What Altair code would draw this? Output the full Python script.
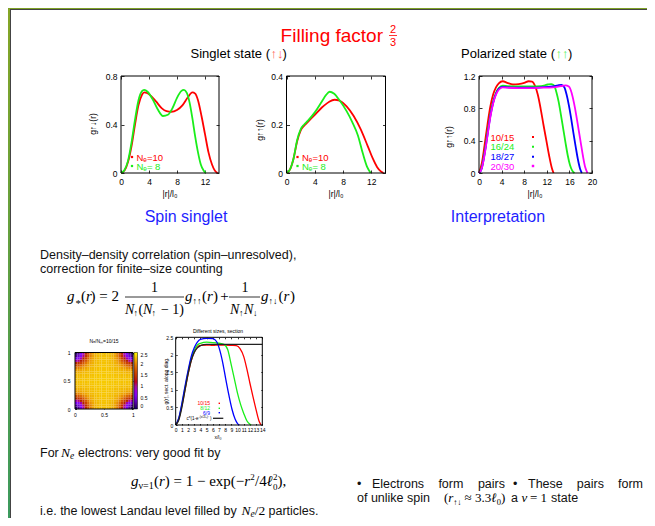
import altair as alt
import pandas as pd

SANS = "Liberation Sans"
SERIF = "Liberation Serif"
W, H = 639, 510
OFF = 8  # page margin

# ---------------- data ----------------
# Singlet state, g_{up,down}(r)
sd10_r = [0, 0.5, 1, 1.5, 2, 2.5, 3, 3.3, 3.7, 4.2, 5, 5.8, 6.5, 7.2, 8, 8.8, 9.5, 10.2, 10.6, 11, 11.5, 12, 12.5, 13, 13.4, 13.8]
sd10_g = [0, 0.02, 0.09, 0.22, 0.40, 0.56, 0.645, 0.665, 0.66, 0.64, 0.59, 0.535, 0.51, 0.505, 0.52, 0.56, 0.62, 0.665, 0.655, 0.6, 0.47, 0.32, 0.17, 0.07, 0.02, 0]
sd8_r = [0, 0.5, 1, 1.5, 2, 2.5, 3, 3.3, 3.8, 4.5, 5.2, 6, 6.7, 7.4, 8, 8.6, 9, 9.4, 9.8, 10.2, 10.6, 11, 11.4, 11.8, 12.1]
sd8_g = [0, 0.025, 0.1, 0.25, 0.44, 0.6, 0.675, 0.685, 0.67, 0.61, 0.53, 0.47, 0.48, 0.54, 0.62, 0.675, 0.685, 0.66, 0.58, 0.45, 0.3, 0.17, 0.07, 0.02, 0]
# Singlet state, g_{up,up}(r)
su10_r = [0, 0.5, 1, 1.5, 2, 2.5, 3, 4, 5, 6, 6.8, 7.5, 8.5, 9.5, 10.5, 11.5, 12.2, 12.8, 13.3, 13.7]
su10_g = [0, 0.015, 0.06, 0.13, 0.175, 0.195, 0.21, 0.24, 0.27, 0.293, 0.302, 0.298, 0.275, 0.235, 0.18, 0.11, 0.06, 0.025, 0.008, 0]
su8_r = [0, 0.5, 1, 1.5, 2, 2.5, 3, 4, 5, 5.6, 6.1, 6.7, 7.5, 8.5, 9.3, 10.1, 10.8, 11.4, 11.9]
su8_g = [0, 0.015, 0.06, 0.135, 0.18, 0.2, 0.215, 0.25, 0.295, 0.322, 0.335, 0.328, 0.3, 0.255, 0.21, 0.155, 0.08, 0.025, 0]
# Polarized state
p15_r = [0, 0.5, 1, 1.5, 2, 2.5, 3, 3.5, 4.2, 5, 6, 7, 8, 8.8, 9.4, 9.9, 10.4, 10.9, 11.4, 11.9, 12.4, 12.9, 13.2]
p15_g = [0, 0.12, 0.35, 0.6, 0.82, 0.97, 1.06, 1.11, 1.135, 1.115, 1.095, 1.1, 1.115, 1.135, 1.13, 1.08, 0.97, 0.8, 0.6, 0.41, 0.22, 0.06, 0]
p24_r = [0, 0.5, 1, 1.5, 2, 2.5, 3, 3.5, 4.2, 5, 7, 9, 11, 12.2, 12.8, 13.3, 13.7, 14.1, 14.5, 14.9, 15.3, 15.7, 16.1, 16.5, 16.9]
p24_g = [0, 0.07, 0.26, 0.5, 0.72, 0.88, 0.99, 1.05, 1.08, 1.075, 1.07, 1.07, 1.075, 1.095, 1.1, 1.08, 1.0, 0.88, 0.72, 0.55, 0.38, 0.22, 0.1, 0.03, 0]
p27_r = [0, 0.5, 1, 1.5, 2, 2.5, 3, 3.5, 4.2, 5, 7, 9, 11, 13, 14, 14.6, 15.1, 15.5, 15.9, 16.3, 16.7, 17.1, 17.5, 17.9, 18.2]
p27_g = [0, 0.06, 0.24, 0.47, 0.7, 0.87, 0.98, 1.04, 1.065, 1.06, 1.055, 1.055, 1.06, 1.07, 1.085, 1.09, 1.06, 0.97, 0.84, 0.68, 0.5, 0.33, 0.17, 0.05, 0]
p30_r = [0, 0.5, 1, 1.5, 2, 2.5, 3, 3.5, 4.2, 5, 7, 9, 11, 13, 14.5, 15.3, 15.9, 16.4, 16.8, 17.2, 17.6, 18, 18.4, 18.8, 19.2]
p30_g = [0, 0.06, 0.23, 0.46, 0.69, 0.86, 0.97, 1.03, 1.06, 1.055, 1.05, 1.05, 1.055, 1.06, 1.075, 1.085, 1.07, 0.99, 0.87, 0.72, 0.55, 0.38, 0.21, 0.07, 0]
# Section along diagonal, different sizes
s15_r = [0, 0.5, 1, 1.5, 2, 2.5, 3, 3.5, 4, 5, 6, 7, 8, 9, 9.8, 10.4, 11, 11.5, 12, 12.5, 13, 13.5, 13.8]
s15_g = [0, 0.17, 0.55, 1.0, 1.45, 1.83, 2.08, 2.22, 2.27, 2.28, 2.27, 2.28, 2.28, 2.27, 2.26, 2.18, 1.95, 1.6, 1.19, 0.8, 0.43, 0.1, 0]
s12_r = [0, 0.5, 1, 1.5, 2, 2.5, 3, 3.5, 4, 5, 6, 7, 7.8, 8.4, 9, 9.5, 10, 10.5, 11, 11.5, 12, 12.2]
s12_g = [0, 0.18, 0.58, 1.05, 1.5, 1.88, 2.13, 2.28, 2.33, 2.36, 2.35, 2.33, 2.3, 2.15, 1.7, 1.3, 0.9, 0.58, 0.33, 0.12, 0.02, 0]
s9_r = [0, 0.5, 1, 1.5, 2, 2.5, 3, 3.5, 4, 5, 6, 6.6, 7.1, 7.6, 8.1, 8.6, 9.1, 9.6, 10, 10.3]
s9_g = [0, 0.2, 0.62, 1.1, 1.55, 1.95, 2.2, 2.36, 2.44, 2.47, 2.46, 2.38, 2.15, 1.78, 1.3, 0.85, 0.45, 0.17, 0.04, 0]
fit_r = [0, 0.5, 1, 1.5, 2, 2.5, 3, 3.5, 4, 4.5, 5, 6, 8, 10, 12, 14]
fit_g = [0, 0.14, 0.5, 0.99, 1.45, 1.83, 2.07, 2.2, 2.26, 2.29, 2.3, 2.3, 2.3, 2.3, 2.3, 2.3]
# Heatmap N_e/N_m = 10/15 : one quadrant (rows/cols counted from a corner)
hm_quad = [
    [0.09, 0.26, 0.55, 0.93, 1.34, 1.69, 1.96, 2.13, 2.20, 2.25, 2.26, 2.27],
    [0.26, 0.42, 0.70, 1.04, 1.43, 1.75, 1.99, 2.14, 2.21, 2.25, 2.26, 2.27],
    [0.55, 0.70, 0.93, 1.25, 1.57, 1.86, 2.05, 2.16, 2.22, 2.25, 2.27, 2.28],
    [0.93, 1.04, 1.25, 1.50, 1.75, 1.96, 2.12, 2.19, 2.23, 2.26, 2.27, 2.28],
    [1.34, 1.43, 1.57, 1.75, 1.93, 2.07, 2.15, 2.21, 2.25, 2.26, 2.27, 2.28],
    [1.69, 1.75, 1.86, 1.96, 2.07, 2.15, 2.20, 2.23, 2.26, 2.27, 2.28, 2.29],
    [1.96, 1.99, 2.05, 2.12, 2.15, 2.20, 2.23, 2.25, 2.26, 2.27, 2.28, 2.29],
    [2.13, 2.14, 2.16, 2.19, 2.21, 2.23, 2.25, 2.26, 2.27, 2.28, 2.29, 2.29],
    [2.20, 2.21, 2.22, 2.23, 2.25, 2.26, 2.26, 2.27, 2.28, 2.29, 2.29, 2.30],
    [2.25, 2.25, 2.25, 2.26, 2.26, 2.27, 2.27, 2.28, 2.29, 2.29, 2.30, 2.30],
    [2.26, 2.26, 2.27, 2.27, 2.27, 2.28, 2.28, 2.29, 2.29, 2.30, 2.30, 2.31],
    [2.27, 2.27, 2.28, 2.28, 2.28, 2.29, 2.29, 2.29, 2.30, 2.30, 2.31, 2.31],
]
# tick values
t_x14 = [0, 4, 8, 12]
t_y08 = [0, 0.4, 0.8]
t_y04 = [0, 0.2, 0.4]
t_x20 = [0, 4, 8, 12, 16, 20]
t_y12 = [0, 0.4, 0.8, 1.2]
t_sx = list(range(0, 15))
t_sy = [0, 0.5, 1, 1.5, 2, 2.5]
t_h = [0, 0.5, 1]
cb_stops = [0, 0.25, 0.5, 0.75, 1.0, 1.25, 1.5, 1.75, 2.0, 2.25, 2.5]
cb_colors = ["#000000", "#510096", "#7202f2", "#8c07f2", "#a11096", "#b42000",
             "#c53700", "#d55700", "#e48300", "#f2ba00", "#ffff00"]

RED, GREEN, BLUE, MAG = "#ff0000", "#1aee1a", "#0000ff", "#ff00ff"


def long(series):
    rows = []
    for name, (rs, gs) in series.items():
        for r, g in zip(rs, gs):
            rows.append({"s": name, "r": r, "g": g})
    return pd.DataFrame(rows)


def ax(orient, offset, values, labels=True, ticks=False, size=8.5, pad=3, tick=3):
    return alt.Axis(orient=orient, offset=offset, values=values, labels=labels, ticks=ticks,
                    tickSize=tick, tickColor="black", tickWidth=0.8, domain=False, grid=False,
                    title=None, labelFont=SANS, labelFontSize=size, labelColor="black",
                    labelPadding=pad, labelFlush=False, labelOverlap=False,
                    labelExpr="toString(datum.value)")


def frame_layers(xs, ys, xdom, ydom, x0, x1, yb, yt, xt, yt_vals, tick, bw):
    box = pd.DataFrame({"a": [xdom[0]], "b": [xdom[1]], "c": [ydom[0]], "d": [ydom[1]]})
    b1 = alt.Chart(box).mark_rect(fillOpacity=0, stroke="black", strokeWidth=bw).encode(
        x=alt.X("a:Q", scale=xs, axis=ax("top", -yb, xt, labels=False, ticks=True, tick=tick)),
        x2=alt.X2("b"),
        y=alt.Y("c:Q", scale=ys, axis=ax("right", x0 - W, yt_vals, labels=False, ticks=True, tick=tick)),
        y2=alt.Y2("d"))
    b2 = alt.Chart(box).mark_rect(opacity=0).encode(
        x=alt.X("a:Q", scale=xs, axis=ax("bottom", yt - H, xt, labels=False, ticks=True, tick=tick)),
        x2=alt.X2("b"),
        y=alt.Y("c:Q", scale=ys, axis=ax("left", -x1, yt_vals, labels=False, ticks=True, tick=tick)),
        y2=alt.Y2("d"))
    return [b1, b2]


def panel(df, xdom, ydom, px, py, xt, yt_vals, cdom, crng, lw=1.8, fs=8.5, tick=3, bw=1, xpad=4, ypad=4):
    x0, x1 = px[0] - OFF, px[1] - OFF
    yb, yt = py[0] - OFF, py[1] - OFF
    xs = alt.Scale(domain=xdom, range=[x0, x1], nice=False, zero=False)
    ys = alt.Scale(domain=ydom, range=[yb, yt], nice=False, zero=False)
    data = alt.Chart(df).mark_line(strokeWidth=lw, interpolate="monotone").encode(
        x=alt.X("r:Q", scale=xs, axis=ax("bottom", yb - H, xt, size=fs, pad=xpad)),
        y=alt.Y("g:Q", scale=ys, axis=ax("left", -x0, yt_vals, size=fs, pad=ypad)),
        color=alt.Color("s:N", scale=alt.Scale(domain=cdom, range=crng), legend=None),
    )
    return [data] + frame_layers(xs, ys, xdom, ydom, x0, x1, yb, yt, xt, yt_vals, tick, bw)


def T(s, x, y, size=12.5, color="black", align="left", font=SANS, style="normal",
      angle=0, baseline="alphabetic"):
    return alt.Chart(pd.DataFrame({"t": [s]})).mark_text(
        align=align, baseline=baseline, fontSize=size, color=color, font=font,
        fontStyle=style, angle=angle).encode(text="t:N", x=alt.value(x - OFF), y=alt.value(y - OFF))


def DOT(x, y, color, size=5):
    return alt.Chart(pd.DataFrame({"k": [0]})).mark_square(size=size, color=color, opacity=1).encode(
        x=alt.value(x - OFF), y=alt.value(y - OFF))


def RULE(x1, x2, y, color="black", w=0.8):
    return alt.Chart(pd.DataFrame({"k": [0]})).mark_rule(color=color, strokeWidth=w).encode(
        x=alt.value(x1 - OFF), x2=alt.value(x2 - OFF), y=alt.value(y - OFF))


def VRULE(x, y1, y2, color="black", w=0.8):
    return alt.Chart(pd.DataFrame({"k": [0]})).mark_rule(color=color, strokeWidth=w).encode(
        x=alt.value(x - OFF), y=alt.value(y1 - OFF), y2=alt.value(y2 - OFF))


layers = []

# ---------------- slide frame ----------------
one = pd.DataFrame({"k": [0]})
layers.append(alt.Chart(one).mark_rect(fill=alt.Gradient(
    gradient="linear", x1=0, x2=0, y1=0, y2=1,
    stops=[alt.GradientStop(color="#86a626", offset=0), alt.GradientStop(color="#3c9a5e", offset=1)])).encode(
    x=alt.value(0), x2=alt.value(2), y=alt.value(0), y2=alt.value(H)))
layers.append(alt.Chart(one).mark_rect(fill="#7ea126").encode(
    x=alt.value(0), x2=alt.value(W), y=alt.value(0), y2=alt.value(1)))
layers.append(VRULE(10.5, 9.5, 526, color="#444444", w=1))
layers.append(RULE(10, 655, 9.5, color="#444444", w=1))

# ---------------- title ----------------
layers += [
    T("Filling factor", 383, 42, 19, RED, "right"),
    T("2", 393, 33, 11, RED, "center"),
    RULE(389, 397, 35.5, RED, 0.8),
    T("3", 393, 45.5, 11, RED, "center"),
    T("Singlet state (", 270, 58, 13, "black", "right"),
    T("↑↓", 270.5, 58, 13, "#ff5c5c"),
    T(")", 282.5, 58, 13),
    T("Polarized state (", 555, 58, 13, "black", "right"),
    T("↑↑", 555.5, 58, 13, "#5cf05c"),
    T(")", 568, 58, 13),
]

# ---------------- top plots ----------------
layers += panel(long({"10": (sd10_r, sd10_g), "8": (sd8_r, sd8_g)}),
                [0, 14], [0, 0.8], [121, 219], [173, 76], t_x14, t_y08,
                ["10", "8"], [RED, GREEN])
layers += panel(long({"10": (su10_r, su10_g), "8": (su8_r, su8_g)}),
                [0, 14], [0, 0.4], [286.5, 385.5], [173, 76], t_x14, t_y04,
                ["10", "8"], [RED, GREEN])
layers += panel(long({"10/15": (p15_r, p15_g), "16/24": (p24_r, p24_g),
                      "18/27": (p27_r, p27_g), "20/30": (p30_r, p30_g)}),
                [0, 20], [0, 1.2], [479, 592], [173, 76], t_x20, t_y12,
                ["10/15", "16/24", "18/27", "20/30"], [RED, GREEN, BLUE, MAG])

# axis titles of top plots
layers += [
    T("g↑↓(r)", 93, 124, 8.5, angle=270, align="center", baseline="middle"),
    T("g↑↑(r)", 260, 130, 8.5, angle=270, align="center", baseline="middle"),
    T("g↑↑(r)", 449, 137, 8.5, angle=270, align="center", baseline="middle"),
    T("|r|/l₀", 170, 197, 8.5, align="center"),
    T("|r|/l₀", 336, 197, 8.5, align="center"),
    T("|r|/l₀", 535, 197, 8.5, align="center"),
]
# keys of singlet plots
for dx in (0, 165.5):
    layers += [
        DOT(132 + dx, 157, RED), T("Nₑ=10", 136.5 + dx, 160.5, 9.5, RED),
        DOT(132 + dx, 166, GREEN), T("Nₑ= 8", 136.5 + dx, 169.5, 9.5, GREEN),
    ]
# key of polarized plot
for lab, col, yy in (("10/15", RED, 137), ("16/24", GREEN, 146.7), ("18/27", BLUE, 156.7), ("20/30", MAG, 166)):
    layers += [T(lab, 490.5, yy + 3.5, 9.5, col), DOT(533, yy, col, 6 if col == MAG else 4)]

# ---------------- section headers ----------------
layers += [
    T("Spin singlet", 186, 222, 16, "#1f1fff", "center"),
    T("Interpretation", 498, 222, 16, "#1f1fff", "center"),
    T("Density–density correlation (spin–unresolved),", 40, 258.5, 12.5, "#111111"),
    T("correction for finite–size counting", 40, 272.5, 12.5, "#111111"),
]

# ---------------- formula 1 ----------------
layers += [
    T("g", 67, 301, 15, font=SERIF, style="italic"),
    T("*", 75.5, 307, 11, font=SERIF),
    T("(", 81, 301, 15, font=SERIF),
    T("r", 86, 301, 15, font=SERIF, style="italic"),
    T(") = 2", 119, 301, 15, font=SERIF, align="right"),
    T("1", 154.5, 292, 14, font=SERIF, align="center"),
    RULE(125, 184, 297, "black", 0.8),
    T("N", 125, 313.5, 14, font=SERIF, style="italic"),
    T("↑", 133.5, 316, 9, font=SERIF),
    T("(", 138.5, 313.5, 14, font=SERIF),
    T("N", 143, 313.5, 14, font=SERIF, style="italic"),
    T("↑", 151.5, 316, 9, font=SERIF),
    T(" − 1)", 184, 313.5, 14, font=SERIF, align="right"),
    T("g", 185, 301, 15, font=SERIF, style="italic"),
    T("↑↑", 192.5, 304, 9, font=SERIF),
    T("(", 202, 301, 15, font=SERIF),
    T("r", 207, 301, 15, font=SERIF, style="italic"),
    T(")", 218, 301, 15, font=SERIF, align="right"),
    T("+", 224.5, 301, 15, font=SERIF, align="center"),
    T("1", 245, 292, 14, font=SERIF, align="center"),
    RULE(229, 260, 297, "black", 0.8),
    T("N", 230, 313.5, 14, font=SERIF, style="italic"),
    T("↑", 239, 316, 9, font=SERIF),
    T("N", 244, 313.5, 14, font=SERIF, style="italic"),
    T("↓", 253, 316, 9, font=SERIF),
    T("g", 261, 301, 15, font=SERIF, style="italic"),
    T("↑↓", 268.5, 304, 9, font=SERIF),
    T("(", 278.5, 301, 15, font=SERIF),
    T("r", 283.5, 301, 15, font=SERIF, style="italic"),
    T(")", 295, 301, 15, font=SERIF, align="right"),
]

# ---------------- heatmap ----------------
n = 2 * len(hm_quad)
hrows = []
for i in range(n):
    qi = min(i, n - 1 - i)
    for j in range(n):
        qj = min(j, n - 1 - j)
        hrows.append({"x0": j / n, "x1": (j + 1) / n, "y0": i / n, "y1": (i + 1) / n, "v": hm_quad[qi][qj]})
hm_df = pd.DataFrame(hrows)
hx0, hx1, hyb, hyt = 75 - OFF, 133 - OFF, 409 - OFF, 352.5 - OFF
hxs = alt.Scale(domain=[0, 1], range=[hx0, hx1], nice=False, zero=False)
hys = alt.Scale(domain=[0, 1], range=[hyb, hyt], nice=False, zero=False)
layers.append(alt.Chart(hm_df).mark_rect(strokeWidth=0).encode(
    x=alt.X("x0:Q", scale=hxs, axis=ax("bottom", hyb - H, t_h, size=5, pad=3)),
    x2=alt.X2("x1"),
    y=alt.Y("y0:Q", scale=hys, axis=ax("left", -hx0, t_h, size=5, pad=5)),
    y2=alt.Y2("y1"),
    color=alt.Color("v:Q", scale=alt.Scale(domain=cb_stops, range=cb_colors),
                    legend=alt.Legend(orient="none", legendX=134 - OFF, legendY=352.5 - OFF,
                                      direction="vertical", gradientLength=56.5, gradientThickness=3.5,
                                      values=t_sy, labelFontSize=5, labelFont=SANS, labelColor="black",
                                      labelOffset=3, title=None, padding=0,
                                      labelExpr="toString(datum.value)",
                                      gradientStrokeColor="black", gradientStrokeWidth=0.5)),
))
layers += frame_layers(hxs, hys, [0, 1], [0, 1], hx0, hx1, hyb, hyt, t_h, t_h, 1.5, 1)
layers.append(T("Nₑ/Nₘ=10/15", 104, 342.5, 5, align="center"))

# ---------------- section plot ----------------
layers += panel(long({"10/15": (s15_r, s15_g), "8/12": (s12_r, s12_g), "6/9": (s9_r, s9_g),
                      "fit": (fit_r, fit_g)}),
                [0, 14], [0, 2.5], [175.7, 262.3], [425, 337.3], t_sx, t_sy,
                ["10/15", "8/12", "6/9", "fit"], [RED, GREEN, BLUE, "#222222"],
                lw=1.3, fs=5, tick=1.5, bw=1, xpad=2.5, ypad=3)
layers += [
    T("Different sizes, section", 218, 333, 5, align="center"),
    T("g(r), sect. along diag.", 166, 381, 5, angle=270, align="center", baseline="middle"),
    T("x/l₀", 218, 439, 5, align="center"),
    T("10/15", 210, 405, 5, RED, "right"), DOT(219.3, 403.3, RED, 2),
    T("8/12", 210, 410, 5, GREEN, "right"), DOT(219.3, 408.3, GREEN, 2),
    T("6/9", 210, 414.5, 5, BLUE, "right"), DOT(219.3, 412.7, BLUE, 2),
    T("c*(1-e", 198.5, 420, 4.5, "black", "right"),
    T("-(x/2l₀)²", 198.8, 417.3, 3, "black"),
    T(")", 211.5, 420, 4.5, "black", "right"),
    RULE(213, 223.3, 418.3, "#222222", 1.3),
]

# ---------------- bottom left text ----------------
layers += [
    T("For", 40, 456.5, 12.5, "#111111"),
    T("N", 61, 456.5, 13.5, font=SERIF, style="italic"),
    T("e", 70, 459, 9.5, font=SERIF, style="italic"),
    T("electrons: very good fit by", 78, 456.5, 12.5, "#111111"),
    T("g", 131, 486, 15, font=SERIF, style="italic"),
    T("ν=1", 138.5, 489, 10, font=SERIF),
    T("(", 154, 486, 15, font=SERIF),
    T("r", 159, 486, 15, font=SERIF, style="italic"),
    T(") = 1 − exp(−", 164.8, 486, 15, font=SERIF),
    T("r", 244.3, 486, 15, font=SERIF, style="italic"),
    T("2", 250.3, 480, 9, font=SERIF),
    T("/4", 255, 486, 15, font=SERIF),
    T("ℓ", 266.5, 486, 15, font=SERIF, style="italic"),
    T("2", 273, 480, 9, font=SERIF),
    T("0", 273, 489.5, 9, font=SERIF),
    T("),", 277.5, 486, 15, font=SERIF),
    T("i.e. the lowest Landau level filled by", 40, 514.5, 12.5, "#111111"),
    T("N", 241.5, 514.5, 13.5, font=SERIF, style="italic"),
    T("e", 250.5, 517, 9.5, font=SERIF, style="italic"),
    T("/2", 254.7, 514.5, 13.5, font=SERIF),
    T("particles.", 268.5, 514.5, 12.5, "#111111"),
]

# ---------------- bottom right text ----------------
layers += [
    T("•", 357, 487.5, 12.5, "#111111"),
    T("Electrons", 372, 487.5, 12.5, "#111111"),
    T("form", 438.4, 487.5, 12.5, "#111111"),
    T("pairs", 505, 487.5, 12.5, "#111111", "right"),
    T("of unlike spin", 357, 502, 12.5, "#111111"),
    T("(", 444, 502, 13, font=SERIF),
    T("r", 448.3, 502, 13, font=SERIF, style="italic"),
    T("↑↓", 453.3, 504.5, 8, font=SERIF),
    T("≈ 3.3", 464.5, 502, 13, font=SERIF),
    T("ℓ", 491.2, 502, 13, font=SERIF, style="italic"),
    T("0", 496.8, 504.5, 8.5, font=SERIF),
    T(")", 505.3, 502, 13, font=SERIF, align="right"),
    T("•", 513, 487.5, 12.5, "#111111"),
    T("These", 528, 487.5, 12.5, "#111111"),
    T("pairs", 576.8, 487.5, 12.5, "#111111"),
    T("form", 643, 487.5, 12.5, "#111111", "right"),
    T("a", 511, 502, 12.5, "#111111"),
    T("ν", 521.5, 502, 13, font=SERIF, style="italic"),
    T("= 1", 530, 502, 13, font=SERIF),
    T("state", 551, 502, 12.5, "#111111"),
]

chart = alt.layer(*layers).resolve_scale(
    x="independent", y="independent", color="independent"
).properties(
    width=W, height=H, padding=0, background="white",
    autosize=alt.AutoSizeParams(type="none"),
).configure_view(stroke=None)

chart.save("out.html", embed_options={"renderer": "svg", "actions": False})
